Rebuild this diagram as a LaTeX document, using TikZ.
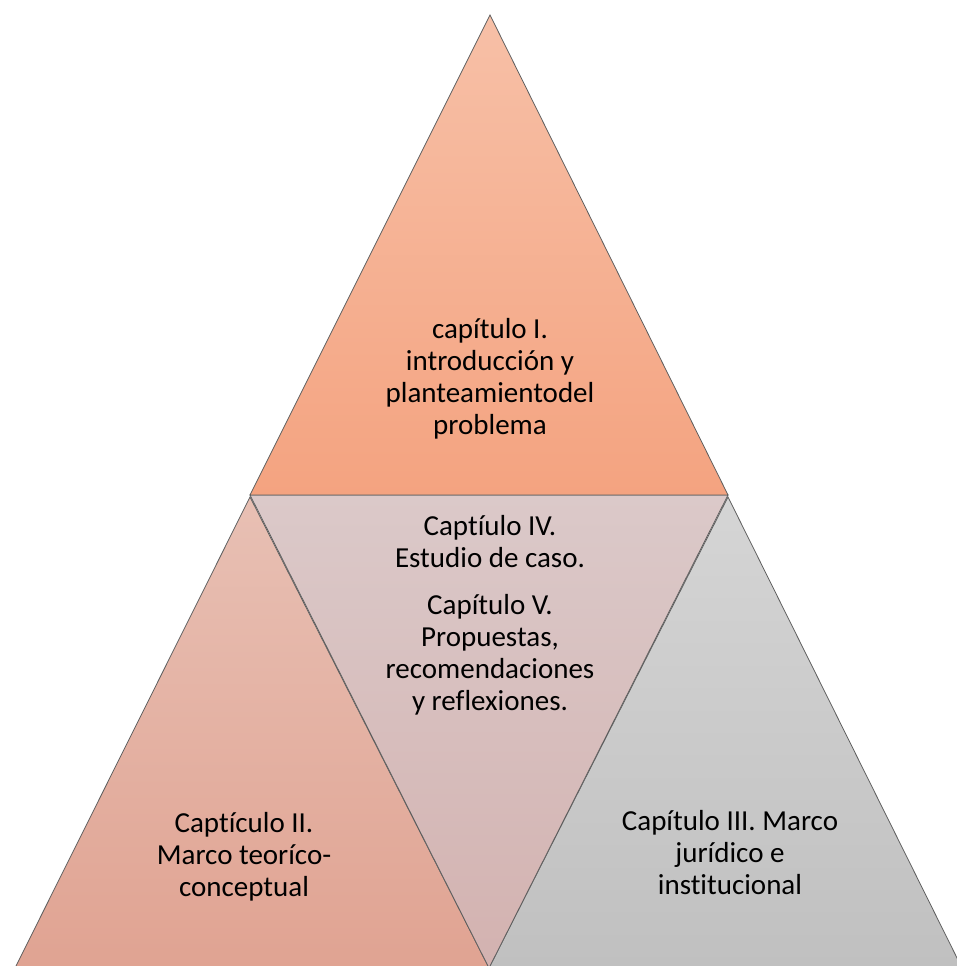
\documentclass[tikz,border=0pt]{standalone}
\usepackage{fontspec}
\setmainfont{Carlito}[Ligatures={NoCommon}]
\definecolor{topT}{RGB}{247,192,167}
\definecolor{topB}{RGB}{244,163,128}
\definecolor{leftT}{RGB}{232,192,180}
\definecolor{leftB}{RGB}{224,163,146}
\definecolor{midT}{RGB}{219,201,201}
\definecolor{midB}{RGB}{211,178,176}
\definecolor{rightT}{RGB}{213,213,213}
\definecolor{rightB}{RGB}{192,192,192}
\definecolor{edge}{RGB}{95,95,95}
\tikzset{
  tri/.style={draw=edge, line width=0.8pt, line join=miter},
  lbl/.style={align=center, inner sep=0pt, text=black, font=\fontsize{29}{32}\selectfont}
}
\begin{document}
\begin{tikzpicture}[x=1pt,y=1pt]
\useasboundingbox (0,0) rectangle (957,966);
\begin{scope}
\clip (0,0) rectangle (957,966);
% vertices
\coordinate (A) at (490,951);
\coordinate (L) at (250,471);
\coordinate (R) at (728,471);
\coordinate (L2) at (250,469);
\coordinate (R2) at (728,469);
\coordinate (BL) at (15,-2);
\coordinate (BM) at (489,-2);
\coordinate (BR) at (962,-2);
% triangles
\shade[top color=leftT, bottom color=leftB] (L2) -- (BM) -- (BL) -- cycle;
\draw[tri] (L2) -- (BM) -- (BL) -- cycle;
\shade[top color=rightT, bottom color=rightB] (R2) -- (BR) -- (BM) -- cycle;
\draw[tri] (R2) -- (BR) -- (BM) -- cycle;
\shade[top color=midT, bottom color=midB] (L) -- (R) -- (BM) -- cycle;
\draw[tri] (L) -- (R) -- (BM) -- cycle;
\shade[top color=topT, bottom color=topB] (A) -- (R) -- (L) -- cycle;
\draw[tri] (A) -- (R) -- (L) -- cycle;
\end{scope}
% labels
\node[lbl] (t1) at (490,587) {capítulo I.\\introducción y\\planteamientodel\\problema};
\node[lbl] (t4) at (490,350.5) {Captíulo IV.\\Estudio de caso.\\[15pt]Capítulo V.\\Propuestas,\\recomendaciones\\y reflexiones.};
\node[lbl] (t2) at (244,109.5) {Captículo II.\\Marco teoríco-\\conceptual};
\node[lbl] (t3) at (730,113) {Capítulo III. Marco\\jurídico e\\institucional};
\end{tikzpicture}
\end{document}
